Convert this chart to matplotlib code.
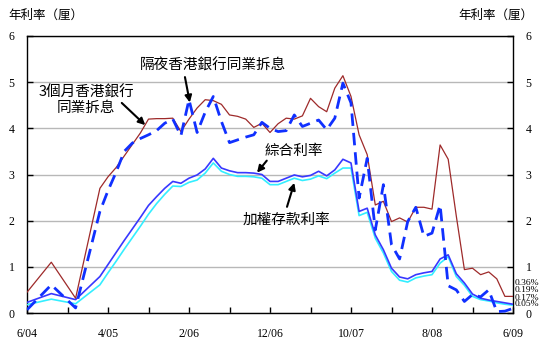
import matplotlib
matplotlib.use("Agg")
import matplotlib.pyplot as plt

# months since 6/04 (quarterly at first, then monthly)
months = [0, 3, 6] + list(range(9, 61))

hibor_3m = [0.45, 1.10, 0.32,
            2.70, 2.95, 3.15, 3.40, 3.65, 3.90, 4.20, 4.21, 4.21, 4.22,
            3.93, 4.20, 4.44, 4.62, 4.60, 4.52, 4.29, 4.26, 4.20, 4.02,
            4.11, 3.91, 4.10, 4.22, 4.20, 4.27, 4.65, 4.47, 4.36, 4.87,
            5.14, 4.69, 3.86, 3.43, 2.34, 2.42, 1.98, 2.06, 1.97, 2.29,
            2.29, 2.25, 3.64, 3.33, 2.10, 0.94, 0.97, 0.83, 0.89, 0.74,
            0.36, 0.36]
hibor_on = [0.07, 0.61, 0.11,
            2.20, 2.65, 3.05, 3.50, 3.68, 3.78, 3.86, 3.95, 4.11, 4.20,
            3.84, 4.62, 3.91, 4.35, 4.69, 4.15, 3.69, 3.75, 3.81, 3.86,
            4.13, 4.00, 3.93, 3.95, 4.29, 4.04, 4.11, 4.18, 3.97, 4.22,
            4.98, 4.55, 2.49, 3.35, 1.80, 2.78, 1.48, 1.17, 1.98, 2.29,
            1.66, 1.73, 2.34, 0.59, 0.50, 0.25, 0.40, 0.35, 0.50, 0.03,
            0.04, 0.10]
composite = [0.23, 0.42, 0.29,
             0.79, 1.05, 1.31, 1.57, 1.82, 2.07, 2.33, 2.52, 2.70, 2.85,
             2.81, 2.92, 2.99, 3.12, 3.35, 3.14, 3.08, 3.04, 3.04, 3.03,
             3.00, 2.85, 2.85, 2.92, 2.99, 2.95, 2.98, 3.07, 2.97, 3.10,
             3.33, 3.25, 2.20, 2.27, 1.69, 1.37, 0.97, 0.78, 0.74, 0.83,
             0.87, 0.90, 1.17, 1.26, 0.85, 0.65, 0.41, 0.32, 0.28, 0.25,
             0.22, 0.19]
deposit = [0.18, 0.30, 0.20,
           0.61, 0.87, 1.12, 1.38, 1.63, 1.88, 2.14, 2.37, 2.57, 2.75,
           2.74, 2.83, 2.88, 3.03, 3.25, 3.07, 3.00, 2.96, 2.96, 2.95,
           2.92, 2.78, 2.78, 2.85, 2.92, 2.87, 2.90, 2.97, 2.91, 3.03,
           3.14, 3.14, 2.11, 2.18, 1.62, 1.30, 0.90, 0.71, 0.67, 0.76,
           0.80, 0.83, 1.08, 1.22, 0.79, 0.60, 0.36, 0.29, 0.26, 0.22,
           0.19, 0.17]

xtick_pos = list(range(0, 61, 5))
xtick_labels = ["6/04", "", "4/05", "", "2/06", "", "12/06", "", "10/07", "",
                "8/08", "", "6/09"]
end_labels = ["0.36%", "0.19%", "0.17%", "0.05%"]

cjk = ["Noto Sans CJK TC", "DejaVu Sans"]
num_font = "Liberation Serif"

W, H = 548, 347
fig = plt.figure(figsize=(W / 100, H / 100), dpi=100)
ax = fig.add_axes([27 / W, 1 - 313 / H, (513 - 27) / W, (313 - 36) / H])

ax.plot(months, deposit, color="#33EEFF", lw=1.2, zorder=3)
ax.plot(months, composite, color="#3838FF", lw=1.2, zorder=4)
ax.plot(months, hibor_3m, color="#9E2A2A", lw=0.9, zorder=5)
ax.plot(months, hibor_on, color="#1030FF", lw=2.0, dashes=(4.5, 2.5), zorder=6)

ax.set_xlim(0, 60)
ax.set_ylim(0, 6)
ax.set_yticks(range(0, 7))
ax.set_xticks(xtick_pos)
ax.set_xticklabels(xtick_labels)
ax.yaxis.grid(True, color="#b8b8b8", lw=1.0)
ax.set_axisbelow(True)
for s in ax.spines.values():
    s.set_linewidth(1.0)
    s.set_color("black")
ax.tick_params(axis="both", direction="in", length=4, width=1.0,
               labelsize=8.5, colors="black")
ax.tick_params(axis="y", right=True, labelright=True, pad=9)
ax.tick_params(axis="x", pad=11)
for lab in ax.get_xticklabels() + ax.get_yticklabels():
    lab.set_family(num_font)

fig.text(8 / W, 1 - 15 / H, "年利率（厘）", family=cjk, fontsize=9,
         va="center", ha="left")
fig.text(533 / W, 1 - 15 / H, "年利率（厘）", family=cjk, fontsize=9,
         va="center", ha="right")

# right-hand end values (overlapping, as in the original)
for lab, yy in zip(end_labels, [283, 290, 298, 304]):
    fig.text(515 / W, 1 - yy / H, lab, family=num_font, fontsize=6.8,
             va="center", ha="left")

# labels and arrows
lbl = dict(family=cjk, fontsize=10.5, ha="center", va="center")
ax.text(23.0, 5.37, "隔夜香港銀行同業拆息", **lbl)
ax.text(7.3, 4.61, "3個月香港銀行\n同業拆息", linespacing=1.1, **lbl)
ax.text(32.9, 3.51, "綜合利率", **lbl)
ax.text(32.0, 2.02, "加權存款利率", **lbl)

arrow = dict(arrowstyle="-|>", color="black", lw=1.5, mutation_scale=10,
             shrinkA=0, shrinkB=0)
for tail, tip in [((19.5, 5.11), (20.1, 4.56)),
                  ((11.7, 4.55), (14.6, 4.07)),
                  ((29.6, 3.30), (28.4, 3.04)),
                  ((32.1, 2.30), (33.0, 2.82))]:
    ax.annotate("", xy=tip, xytext=tail, arrowprops=arrow, zorder=7)

fig.savefig("out.png", dpi=100)
